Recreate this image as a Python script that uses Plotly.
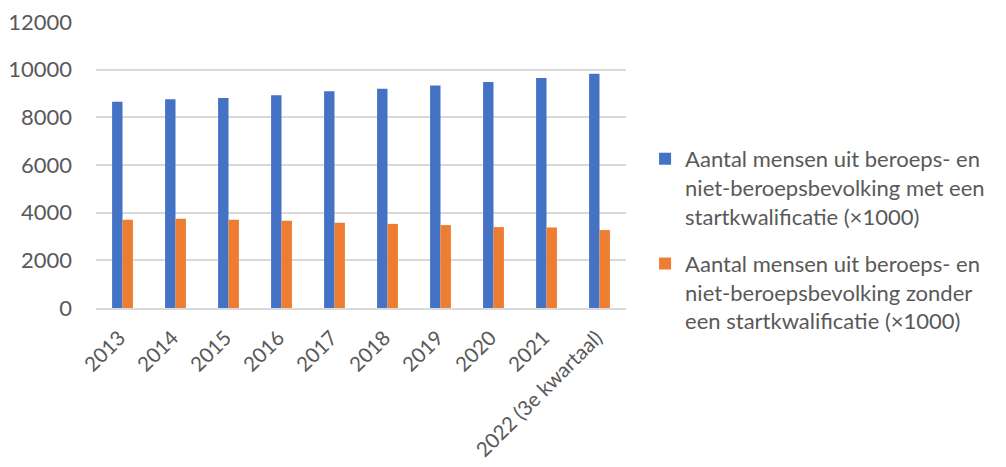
import plotly.graph_objects as go

categories = ["2013", "2014", "2015", "2016", "2017", "2018", "2019", "2020", "2021", "2022 (3e kwartaal)"]
met_start = [8650, 8760, 8810, 8930, 9090, 9200, 9340, 9480, 9650, 9830]
zonder_start = [3700, 3740, 3700, 3660, 3575, 3530, 3480, 3395, 3380, 3270]
series_names = [
    "Aantal mensen uit beroeps- en<br>niet-beroepsbevolking met een<br>startkwalificatie (×1000)",
    "Aantal mensen uit beroeps- en<br>niet-beroepsbevolking zonder<br>een startkwalificatie (×1000)",
]
y_ticks = [0, 2000, 4000, 6000, 8000, 10000, 12000]
y_tick_text = ["0", "2000", "4000", "6000", "8000", "10000", "12000"]

FONT = "Lato, 'Open Sans', sans-serif"
GREY = "#595959"

fig = go.Figure()
fig.add_trace(go.Bar(x=categories, y=met_start, name=series_names[0], legendgroup="a",
                     marker=dict(color="#4472C4", line=dict(width=0))))
fig.add_trace(go.Bar(x=categories, y=zonder_start, name=series_names[1], legendgroup="b",
                     marker=dict(color="#ED7D31", line=dict(width=0))))

fig.update_layout(
    width=1006, height=467,
    margin=dict(l=88, r=388, t=14, b=167, autoexpand=False),
    paper_bgcolor="white", plot_bgcolor="white",
    barmode="group", bargap=0.607, bargroupgap=0,
    font=dict(family=FONT, color=GREY, size=21),
    legend=dict(x=1.036, y=0.238, xanchor="left", yanchor="middle", valign="top",
                font=dict(size=22, color=GREY, family=FONT),
                tracegroupgap=16, itemwidth=30, traceorder="grouped"),
    xaxis=dict(tickangle=-45, showgrid=False, showline=True, linecolor="#d9d9d9",
               linewidth=1.5, ticks="", tickfont=dict(size=20.5, color=GREY),
               ticklabelshift=-3, ticklabelstandoff=8, automargin=False,
               ticklabeloverflow="allow"),
    yaxis=dict(range=[0, 12001], tickvals=y_ticks, ticktext=y_tick_text, showgrid=True,
               gridcolor="#d9d9d9", gridwidth=1.5, zeroline=False, showline=False, ticks="",
               tickfont=dict(size=22, color=GREY), ticklabelstandoff=23, automargin=False,
               ticklabeloverflow="allow"),
)

fig.write_html("out.html")
